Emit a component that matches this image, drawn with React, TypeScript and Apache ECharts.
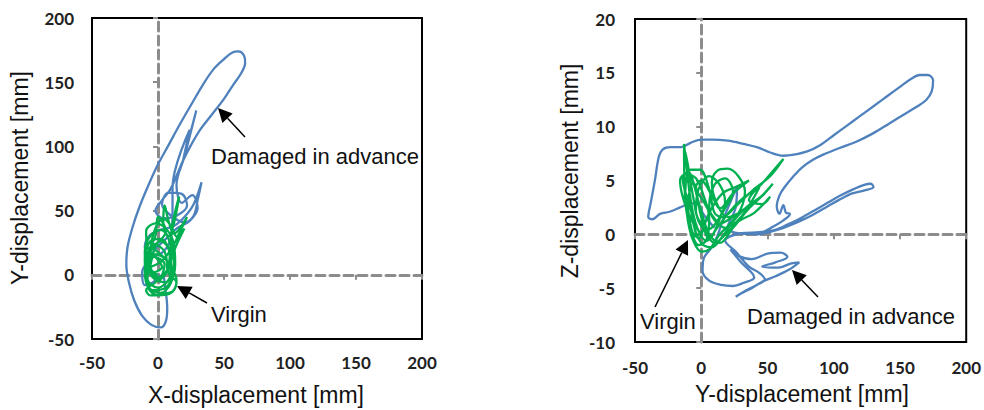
import React, { useEffect, useRef } from "react";
import * as echarts from "echarts";

// X–Y plane orbit (left chart), [X-displacement, Y-displacement] in mm
const damagedXY: number[][] = [
  [4, 2], [6, -14], [7, -26], [6, -36], [2, -41], [-5, -39], [-12, -32], [-18, -20], [-22, -6], [-24, 8],
  [-23, 22], [-19, 38], [-14, 53], [-8, 68], [-1, 84], [8, 101], [17, 118], [26, 134], [34, 148], [42, 160],
  [50, 168], [56, 173], [61, 174], [65, 171], [66, 165], [63, 157], [57, 148], [50, 137], [41, 125], [32, 113],
  [25, 101], [19, 89], [14, 77], [9, 66], [3, 58], [-2, 50], [4, 44], [14, 46], [22, 54], [18, 63],
  [8, 64], [3, 55], [10, 46], [20, 41], [27, 46], [30, 58], [33, 72], [27, 55], [20, 45], [12, 38],
  [2, 35], [-6, 31], [-10, 22], [-6, 14], [4, 18], [10, 30], [11, 48], [11, 68], [24, 113], [19, 89],
  [29, 128], [20, 92], [14, 70], [18, 56], [26, 62], [30, 52], [24, 42], [14, 36], [6, 28], [-2, 20],
  [-8, 10], [-12, 2], [-10, -8], [-4, -6], [2, 0],
];
const virginXY: number[][] = [
  [0, 0], [-8, 5], [-10, 18], [-6, 30], [2, 35], [8, 28], [10, 15], [6, 2], [-2, -6], [-9, -12],
  [-6, -16], [4, -15], [12, -12], [14, -4], [10, 6], [4, 14], [-4, 20], [-8, 10], [-4, -2], [6, -6],
  [10, 4], [8, 20], [2, 28], [-6, 26], [-10, 12], [-8, -4], [0, -10], [8, -4], [12, 10], [10, 28],
  [16, 61], [8, 30], [4, 40], [5, 54], [8, 42], [12, 32], [22, 45], [14, 28], [18, 36], [10, 20],
  [2, 10], [-6, 6], [-2, 22], [6, 34], [0, 45], [-2, 30], [-8, 16], [-9, 0], [-4, -12], [6, -10],
  [11, 0], [6, 12], [-2, 16], [-6, 4], [0, -4], [7, 4], [5, 18], [-3, 24], [-7, 12], [-3, 2], [3, 6],
  [-8, 22], [-9, 34], [-2, 40], [6, 36], [12, 24], [13, 8], [9, -8], [2, -14], [-7, -10], [-10, 2],
  [-6, 18], [2, 26], [9, 18], [7, 4], [0, -2], [-6, 8], [-4, 30], [4, 44], [10, 38], [14, 30],
  [20, 36], [12, 18], [8, 2], [14, -6], [10, -14], [0, -16], [-8, -8], [-7, 6], [-3, 14], [5, 8], [1, -6],
];

// Y–Z plane orbit (right chart), [Y-displacement mm, Z-displacement mm]
const damagedYZ: number[][] = [
  [10, 0.6], [2, 1.8], [-4, 2.9], [-10, 2.8], [-16, 2.5], [-24, 2.1], [-31, 1.9], [-37, 1.4], [-40, 1.6], [-38, 3],
  [-35, 5], [-32, 7.2], [-29, 7.9], [-23, 8.1], [-15, 8.1], [-8, 8.5], [0, 8.8], [8, 8.8], [20, 8.7], [32, 8.4],
  [42, 8.1], [52, 7.6], [62, 7.3], [70, 7.4], [80, 7.7], [90, 8.3], [100, 9.2], [110, 10.1], [120, 11], [130, 11.9],
  [140, 12.8], [150, 13.7], [158, 14.4], [165, 14.8], [171, 14.8], [175, 14.3], [174, 13.3], [170, 12.5], [162, 11.8], [154, 11.2],
  [142, 10.3], [130, 9.4], [117, 8.6], [104, 8.0], [92, 7.4], [84, 6.9], [76, 6.2], [69, 5.3], [63, 4.4], [59, 3.6],
  [57, 2.6], [59, 1.9], [62, 2.7], [64, 2.0], [67, 1.9], [62, 1.3], [54, 0.7], [46, 0.2], [38, 0.05], [28, 0.1],
  [20, 0.6], [26, 2.5], [27, 4.5], [22, 3.0], [16, 1.2], [12, -0.2], [8, -1.2], [2, -2.2], [1, -3.4], [6, -4.3],
  [15, -4.7], [24, -4.8], [32, -4.5], [40, -4.0], [30, -2.6], [22, -1.4], [28, -2.0], [38, -2.3], [50, -1.8], [60, -1.7],
  [65, -2.1], [56, -2.6], [46, -3.0], [58, -3.1], [68, -2.7], [74, -2.6], [66, -3.3], [56, -3.9], [46, -4.4], [38, -5.0],
  [30, -5.5], [26, -5.8], [34, -5.2], [42, -4.7], [48, -4.2], [44, -3.6], [36, -3.0], [26, -1.6], [18, -0.6], [30, 0.1],
  [44, 0.2], [55, 0.4], [65, 0.9], [75, 1.5], [85, 2.2], [95, 2.9], [105, 3.6], [115, 4.2], [123, 4.6], [128, 4.7],
  [130, 4.4], [124, 4.1], [114, 3.8], [104, 3.2], [94, 2.5], [84, 1.8], [74, 1.2], [64, 0.7], [54, 0.3], [42, 0.0], [30, 0.1],
];
const virginYZ: number[][] = [
  [0, 0], [-8, 1.5], [-14, 3.5], [-16, 5], [-12, 5.6], [-4, 5.2], [2, 3.5], [6, 1.5], [4, -0.5], [-2, -1],
  [-8, 0.5], [-12, 3], [-13, 8.4], [-9, 4], [-6, 1], [0, -0.8], [8, -1.2], [16, -0.2], [24, 1.2], [34, 2.5],
  [46, 3.6], [54, 4.7], [42, 3.1], [30, 2.1], [20, 1.6], [12, 2.8], [8, 4.8], [12, 5.9], [20, 6.1], [28, 5.4],
  [33, 4.0], [30, 2.4], [22, 1.0], [14, 0.0], [6, -1.4], [0, -1.6], [-6, -0.6], [-10, 1.2], [-12, 4], [-8, 6],
  [-1, 6], [6, 4.2], [10, 2], [16, 1.6], [26, 2.6], [38, 4.0], [52, 5.4], [62, 7.0], [48, 5.0], [36, 3.2],
  [46, 2.8], [52, 3.5], [40, 2.0], [28, 1.2], [20, 0.2], [10, -0.8], [2, 0.5], [-4, 2.2], [-2, 4.2], [6, 5.4],
  [14, 4.6], [18, 3.0], [12, 1.2], [4, 0.4], [-2, 1.2], [-6, 3.4], [-10, 6.4], [-12, 7.6], [-8, 3.2], [-3, 0.6],
  [4, -0.6], [12, 0.6], [22, 2.2], [32, 3.4], [44, 4.4], [30, 1.6], [18, 0.6], [8, 1.8], [2, 3.0], [-4, 4.4],
  [0, 5.0], [8, 3.6], [14, 2.4], [24, 3.8], [36, 5.0], [26, 4.4], [16, 3.8], [6, 2.0], [-2, -0.4], [-8, 2.4],
  [-14, 5.2], [-10, 5.8], [-2, 3.0], [6, 0.0], [14, -0.8], [24, 0.6], [36, 2.4], [48, 3.8], [40, 3.0], [26, 1.8],
  [14, 1.0], [6, 2.6], [10, 4.6], [18, 5.2], [24, 4.0], [16, 2.0], [6, -0.4], [0, 1.6], [-6, 4.8], [-10, 3.0],
  [-4, -0.2], [4, 0.8],
];

const seriesNames = ["Damaged in advance", "Virgin"];
const axisTitles = ["X-displacement [mm]", "Y-displacement [mm]", "Y-displacement [mm]", "Z-displacement [mm]"];
const leftRange = { min: -50, max: 200, interval: 50 };
const rightXRange = { min: -50, max: 200, interval: 50 };
const rightYRange = { min: -10, max: 20, interval: 5 };

const BLUE = "#4f81bd";
const GREEN = "#00b050";
const GRAY = "#8c8c8c";
const TEXT_FONT = "'Liberation Sans', Arial, sans-serif";
const TICK_FONT = "Lato, 'Open Sans', sans-serif";

function arrow(x1: number, y1: number, x2: number, y2: number) {
  const dx = x2 - x1;
  const dy = y2 - y1;
  const len = Math.sqrt(dx * dx + dy * dy);
  const ux = dx / len;
  const uy = dy / len;
  const hl = 14;
  const hw = 7;
  const bx = x2 - ux * hl;
  const by = y2 - uy * hl;
  const nx = -uy;
  const ny = ux;
  return [
    { type: "line", shape: { x1, y1, x2: bx, y2: by }, style: { stroke: "#000", lineWidth: 1.5 } },
    {
      type: "polygon",
      shape: { points: [[x2, y2], [bx + nx * hw, by + ny * hw], [bx - nx * hw, by - ny * hw]] },
      style: { fill: "#000" },
    },
  ];
}

function label(text: string, x: number, y: number, opts: any = {}) {
  return {
    type: "text",
    x,
    y,
    rotation: opts.rotation ?? 0,
    style: {
      text,
      fontSize: opts.fontSize ?? 22,
      fontFamily: TEXT_FONT,
      fill: "#111",
      align: opts.align ?? "left",
      verticalAlign: "middle",
      textAlign: opts.align ?? "left",
      textVerticalAlign: "middle",
    },
  };
}

function labelAxis(gridIndex: number, range: any, isX: boolean, margin: number) {
  return {
    gridIndex,
    type: "value",
    ...range,
    position: isX ? "bottom" : "left",
    axisLine: { show: false, onZero: false },
    axisTick: { show: false },
    splitLine: { show: false },
    axisLabel: {
      show: true,
      margin,
      showMinLabel: true,
      showMaxLabel: true,
      fontFamily: TICK_FONT,
      fontWeight: "bold",
      fontSize: 17,
      color: "#222",
    },
  };
}

function zeroAxis(gridIndex: number, range: any, isX: boolean) {
  return {
    gridIndex,
    type: "value",
    ...range,
    position: isX ? "bottom" : "left",
    axisLine: { show: true, onZero: true, lineStyle: { color: GRAY, width: 3, type: [9, 5] } },
    axisTick: { show: true, length: 5, lineStyle: { color: GRAY, width: 2 } },
    axisLabel: { show: false },
    splitLine: { show: false },
  };
}

export default function App() {
  const ref = useRef<HTMLDivElement>(null);
  useEffect(() => {
    if (!ref.current) return;
    const chart = echarts.init(ref.current, undefined, { renderer: "svg" });
    const line = (name: string, data: number[][], color: string, axis: number) => ({
      name,
      type: "line",
      xAxisIndex: axis,
      yAxisIndex: axis,
      data,
      showSymbol: false,
      smooth: 0.35,
      silent: true,
      lineStyle: { color, width: 2.3 },
      itemStyle: { color },
      z: 3,
    });
    chart.setOption({
      animation: false,
      backgroundColor: "#fff",
      grid: [
        { left: 92, top: 18, width: 330, height: 321, show: true, borderColor: "#000", borderWidth: 2, backgroundColor: "transparent" },
        { left: 635, top: 19, width: 333, height: 323, show: true, borderColor: "#000", borderWidth: 2, backgroundColor: "transparent" },
      ],
      xAxis: [
        labelAxis(0, leftRange, true, 15),
        zeroAxis(0, leftRange, true),
        labelAxis(1, rightXRange, true, 17),
        zeroAxis(1, rightXRange, true),
      ],
      yAxis: [
        labelAxis(0, leftRange, false, 18),
        zeroAxis(0, leftRange, false),
        labelAxis(1, rightYRange, false, 20),
        zeroAxis(1, rightYRange, false),
      ],
      series: [
        line(seriesNames[0], damagedXY, BLUE, 0),
        line(seriesNames[1], virginXY, GREEN, 0),
        line(seriesNames[0], damagedYZ, BLUE, 2),
        line(seriesNames[1], virginYZ, GREEN, 2),
      ],
      graphic: [
        label(axisTitles[0], 256, 395, { align: "center", fontSize: 23 }),
        label(axisTitles[1], 20, 178, { align: "center", fontSize: 23, rotation: Math.PI / 2 }),
        label(axisTitles[2], 802, 394, { align: "center", fontSize: 23 }),
        label(axisTitles[3], 570, 171, { align: "center", fontSize: 23, rotation: Math.PI / 2 }),
        label(seriesNames[0], 211, 156),
        label(seriesNames[1], 211, 314),
        label(seriesNames[1], 640, 321),
        label(seriesNames[0], 747, 316),
        ...arrow(245, 137, 218, 108),
        ...arrow(207, 303, 177, 286),
        ...arrow(655, 307, 688, 240),
        ...arrow(818, 297, 792, 270),
      ],
    } as any);
    return () => chart.dispose();
  }, []);
  return <div ref={ref} style={{ position: "fixed", left: 0, top: 0, width: 984, height: 410 }} />;
}
